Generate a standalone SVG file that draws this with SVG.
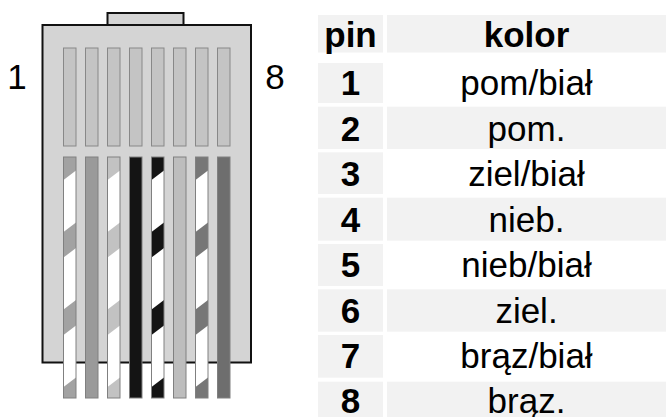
<svg xmlns="http://www.w3.org/2000/svg" xmlns:xlink="http://www.w3.org/1999/xlink" width="666" height="417" viewBox="0 0 666 417">
  <style>
    .body { fill: #d4d4d4; stroke: #111; stroke-width: 2; }
    .slot { fill: #c4c4c4; stroke: #888; stroke-width: 1; }
    .edge { fill: none; stroke: #808080; stroke-width: 1; }
    .stripe { fill: #fff; }
    .cell { fill: #f2f2f2; }
    .lbl { font-family: "Liberation Sans", Arial, sans-serif; font-size: 35px; fill: #000; text-anchor: middle; }
    .b { font-weight: bold; }
  </style>
  <defs>
    <!-- white spiral bands of a striped wire, local x 0..12.5 -->
    <g id="bands">
      <polygon class="stripe" points="0,180 12.5,170.5 12.5,222.5 0,232"/>
      <polygon class="stripe" points="0,257.5 12.5,248 12.5,300 0,309.5"/>
      <polygon class="stripe" points="0,335 12.5,325.5 12.5,377.5 0,387"/>
    </g>
  </defs>

  <!-- RJ45 plug -->
  <g id="plug">
    <rect class="body" x="107.5" y="13" width="76" height="12"/>
    <rect class="body" x="42.5" y="25" width="208.5" height="337.5"/>
    <g id="contacts">
      <rect class="slot" x="63.5" y="48" width="12.5" height="98"/>
      <rect class="slot" x="85.5" y="48" width="12.5" height="98"/>
      <rect class="slot" x="107.5" y="48" width="12.5" height="98"/>
      <rect class="slot" x="129.5" y="48" width="12.5" height="98"/>
      <rect class="slot" x="151.5" y="48" width="12.5" height="98"/>
      <rect class="slot" x="173.5" y="48" width="12.5" height="98"/>
      <rect class="slot" x="195.5" y="48" width="12.5" height="98"/>
      <rect class="slot" x="217.5" y="48" width="12.5" height="98"/>
    </g>
    <g id="wires">
      <g id="wire1" transform="translate(63.5,0)">
        <rect x="0" y="157" width="12.5" height="241" fill="#a2a2a2"/>
        <use xlink:href="#bands"/>
        <rect class="edge" x="0" y="157" width="12.5" height="241"/>
      </g>
      <g id="wire2" transform="translate(85.5,0)">
        <rect x="0" y="157" width="12.5" height="241" fill="#9a9a9a"/>
        <rect class="edge" x="0" y="157" width="12.5" height="241"/>
      </g>
      <g id="wire3" transform="translate(107.5,0)">
        <rect x="0" y="157" width="12.5" height="241" fill="#c2c2c2"/>
        <use xlink:href="#bands"/>
        <rect class="edge" x="0" y="157" width="12.5" height="241"/>
      </g>
      <g id="wire4" transform="translate(129.5,0)">
        <rect x="0" y="157" width="12.5" height="241" fill="#141414"/>
        <rect class="edge" x="0" y="157" width="12.5" height="241"/>
      </g>
      <g id="wire5" transform="translate(151.5,0)">
        <rect x="0" y="157" width="12.5" height="241" fill="#141414"/>
        <use xlink:href="#bands"/>
        <rect class="edge" x="0" y="157" width="12.5" height="241"/>
      </g>
      <g id="wire6" transform="translate(173.5,0)">
        <rect x="0" y="157" width="12.5" height="241" fill="#bdbdbd"/>
        <rect class="edge" x="0" y="157" width="12.5" height="241"/>
      </g>
      <g id="wire7" transform="translate(195.5,0)">
        <rect x="0" y="157" width="12.5" height="241" fill="#777"/>
        <use xlink:href="#bands"/>
        <rect class="edge" x="0" y="157" width="12.5" height="241"/>
      </g>
      <g id="wire8" transform="translate(217.5,0)">
        <rect x="0" y="157" width="12.5" height="241" fill="#6e6e6e"/>
        <rect class="edge" x="0" y="157" width="12.5" height="241"/>
      </g>
    </g>
    <text class="lbl" x="17" y="89">1</text>
    <text class="lbl" x="275" y="89">8</text>
  </g>

  <!-- pinout table -->
  <g id="table">
    <g id="row-head">
      <rect class="cell" x="318" y="15" width="65" height="37.5"/>
      <rect class="cell" x="387" y="15" width="279" height="37.5"/>
      <text class="lbl b" x="350.5" y="47">pin</text>
      <text class="lbl b" x="526.5" y="47">kolor</text>
    </g>
    <g id="row1">
      <rect class="cell" x="318" y="63" width="65" height="40"/>
      <text class="lbl b" x="350.5" y="95">1</text>
      <text class="lbl" x="526.5" y="95">pom/biał</text>
    </g>
    <g id="row2">
      <rect class="cell" x="318" y="106.7" width="65" height="42.3"/>
      <rect class="cell" x="387" y="106.7" width="279" height="42.3"/>
      <text class="lbl b" x="350.5" y="140.5">2</text>
      <text class="lbl" x="526.5" y="140.5">pom.</text>
    </g>
    <g id="row3">
      <rect class="cell" x="318" y="152.3" width="65" height="41.7"/>
      <text class="lbl b" x="350.5" y="186">3</text>
      <text class="lbl" x="526.5" y="186">ziel/biał</text>
    </g>
    <g id="row4">
      <rect class="cell" x="318" y="197.7" width="65" height="43"/>
      <rect class="cell" x="387" y="197.7" width="279" height="43"/>
      <text class="lbl b" x="350.5" y="231.5">4</text>
      <text class="lbl" x="526.5" y="231.5">nieb.</text>
    </g>
    <g id="row5">
      <rect class="cell" x="318" y="244" width="65" height="42"/>
      <text class="lbl b" x="350.5" y="277">5</text>
      <text class="lbl" x="526.5" y="277">nieb/biał</text>
    </g>
    <g id="row6">
      <rect class="cell" x="318" y="289.3" width="65" height="42.4"/>
      <rect class="cell" x="387" y="289.3" width="279" height="42.4"/>
      <text class="lbl b" x="350.5" y="322.5">6</text>
      <text class="lbl" x="526.5" y="322.5">ziel.</text>
    </g>
    <g id="row7">
      <rect class="cell" x="318" y="335" width="65" height="42.7"/>
      <text class="lbl b" x="350.5" y="368">7</text>
      <text class="lbl" x="526.5" y="368">brąz/biał</text>
    </g>
    <g id="row8">
      <rect class="cell" x="318" y="381.7" width="65" height="40"/>
      <rect class="cell" x="387" y="381.7" width="279" height="40"/>
      <text class="lbl b" x="350.5" y="412.5">8</text>
      <text class="lbl" x="526.5" y="412.5">brąz.</text>
    </g>
  </g>
</svg>
